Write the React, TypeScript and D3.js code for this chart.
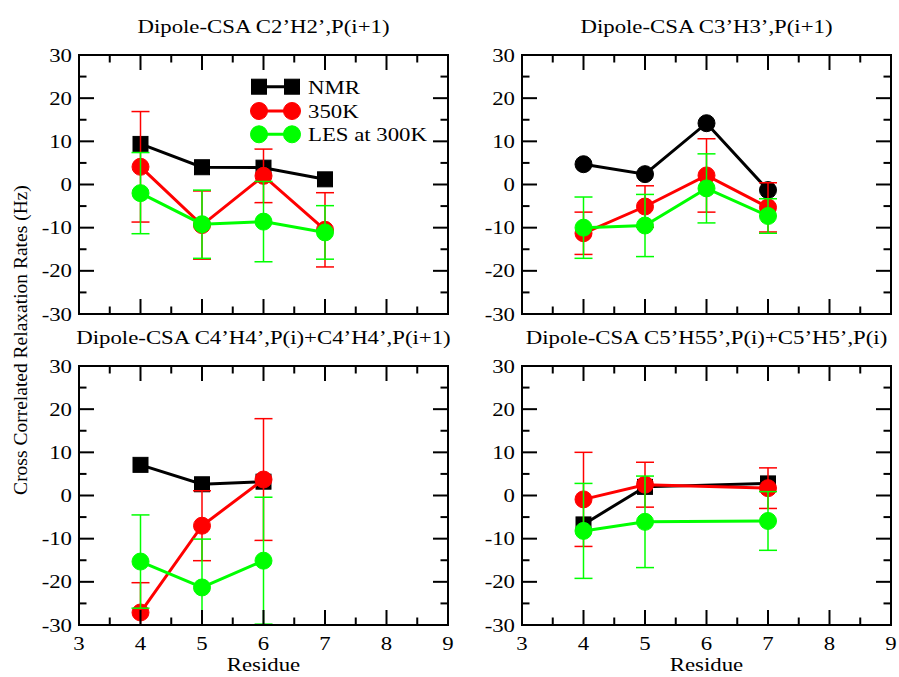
import React from "react";
import * as d3 from "d3";

const W = 899;
const H = 677;

const xTicks = [3, 4, 5, 6, 7, 8, 9];
const yTicks = [-30, -20, -10, 0, 10, 20, 30];
const seriesNames = ["NMR", "350K", "LES at 300K"];
const seriesColors = ["#000000", "#ff0000", "#00ff00"];

const titles = [
  "Dipole-CSA C2\u2019H2\u2019,P(i+1)",
  "Dipole-CSA C3\u2019H3\u2019,P(i+1)",
  "Dipole-CSA C4\u2019H4\u2019,P(i)+C4\u2019H4\u2019,P(i+1)",
  "Dipole-CSA C5\u2019H55\u2019,P(i)+C5\u2019H5\u2019,P(i)",
];

// Panel A
const resA = [4, 5, 6, 7];
const nmrA = [9.4, 4.0, 3.9, 1.2];
const k350A = [4.1, -9.4, 2.0, -10.5];
const k350ErrA = [12.8, 7.9, 6.2, 8.6];
const lesA = [-2.0, -9.2, -8.6, -11.1];
const lesErrA = [9.4, 7.9, 9.3, 6.2];

// Panel B
const resB = [4, 5, 6, 7];
const nmrB = [4.7, 2.4, 14.2, -1.3];
const k350B = [-11.3, -5.1, 2.1, -5.3];
const k350ErrB = [4.9, 4.8, 8.5, 5.7];
const lesB = [-10.0, -9.5, -0.9, -7.3];
const lesErrB = [7.1, 7.2, 8.0, 4.0];

// Panel C
const resC = [4, 5, 6];
const nmrC = [7.1, 2.6, 3.2];
const k350C = [-27.1, -7.0, 3.7];
const k350ErrC = [6.9, 8.1, 14.1];
const lesC = [-15.3, -21.3, -15.1];
const lesErrC = [10.8, 11.2, 14.7];

// Panel D
const resD = [4, 5, 7];
const nmrD = [-6.7, 2.0, 2.8];
const k350D = [-0.9, 2.5, 1.7];
const k350ErrD = [10.9, 5.2, 4.7];
const lesD = [-8.2, -6.1, -5.9];
const lesErrD = [11.0, 10.6, 6.8];

const panels = [
  { res: resA, nmr: nmrA, k350: k350A, k350Err: k350ErrA, les: lesA, lesErr: lesErrA, nmrSym: "square" },
  { res: resB, nmr: nmrB, k350: k350B, k350Err: k350ErrB, les: lesB, lesErr: lesErrB, nmrSym: "circle" },
  { res: resC, nmr: nmrC, k350: k350C, k350Err: k350ErrC, les: lesC, lesErr: lesErrC, nmrSym: "square" },
  { res: resD, nmr: nmrD, k350: k350D, k350Err: k350ErrD, les: lesD, lesErr: lesErrD, nmrSym: "square" },
];

const boxes = [
  { x0: 79, x1: 448, y0: 55, y1: 314 },
  { x0: 522, x1: 891, y0: 55, y1: 314 },
  { x0: 79, x1: 448, y0: 366, y1: 625 },
  { x0: 522, x1: 891, y0: 366, y1: 625 },
];

const FONT = "'Liberation Serif', 'Times New Roman', serif";
const SX = 1.2;

function T({ x, y, anchor = "start", size = 19, children }: any) {
  const tr = `translate(${x},${y}) scale(${SX},1)`;
  return (
    <text transform={tr} textAnchor={anchor} fontFamily={FONT} fontSize={size} fill="#000">
      {children}
    </text>
  );
}

function Sym({ kind, x, y, color }: any) {
  if (kind === "square") {
    return <rect x={x - 7.5} y={y - 7.5} width={15} height={15} fill={color} stroke={color} strokeWidth={1} />;
  }
  return <circle cx={x} cy={y} r={8.5} fill={color} stroke={color} strokeWidth={1} />;
}

function Panel({ idx }: { idx: number }) {
  const b = boxes[idx];
  const p = panels[idx];
  const x = d3.scaleLinear().domain([3, 9]).range([b.x0, b.x1]);
  const y = d3.scaleLinear().domain([-30, 30]).range([b.y1, b.y0]);
  const line = d3
    .line<[number, number]>()
    .x((d) => x(d[0]))
    .y((d) => y(d[1]));
  const xMinor = d3.range(3.5, 9, 1);
  const yMinor = d3.range(-25, 30, 10);
  const clipId = `clip${idx}`;
  const series = [
    { vals: p.nmr, err: null as number[] | null, sym: p.nmrSym, color: seriesColors[0] },
    { vals: p.k350, err: p.k350Err, sym: "circle", color: seriesColors[1] },
    { vals: p.les, err: p.lesErr, sym: "circle", color: seriesColors[2] },
  ];
  const MAJ = 15;
  const MIN = 7.5;
  const cx = (b.x0 + b.x1) / 2;
  return (
    <g>
      <defs>
        <clipPath id={clipId}>
          <rect x={b.x0} y={b.y0} width={b.x1 - b.x0} height={b.y1 - b.y0} />
        </clipPath>
      </defs>
      <T x={cx} y={b.y0 - 22} anchor="middle">{titles[idx]}</T>
      <g clipPath={`url(#${clipId})`}>
        {series.map((s, si) => {
          const pts: [number, number][] = p.res.map((r, i) => [r, s.vals[i]]);
          return (
            <g key={si}>
              <path d={line(pts) || ""} fill="none" stroke={s.color} strokeWidth={3} />
              {pts.map((d, i) => (
                <Sym key={i} kind={s.sym} x={x(d[0])} y={y(d[1])} color={s.color} />
              ))}
              {s.err &&
                pts.map((d, i) => {
                  const e = s.err![i];
                  const xx = x(d[0]);
                  const yt = y(d[1] + e);
                  const yb = y(d[1] - e);
                  return (
                    <g key={"e" + i} stroke={s.color} strokeWidth={1.5}>
                      <line x1={xx} x2={xx} y1={yt} y2={yb} />
                      <line x1={xx - 9} x2={xx + 9} y1={yt} y2={yt} />
                      <line x1={xx - 9} x2={xx + 9} y1={yb} y2={yb} />
                    </g>
                  );
                })}
            </g>
          );
        })}
      </g>
      <rect x={b.x0} y={b.y0} width={b.x1 - b.x0} height={b.y1 - b.y0} fill="none" stroke="#000" strokeWidth={2} />
      <g stroke="#000" strokeWidth={2}>
        {xTicks.map((t) => (
          <g key={"xt" + t}>
            <line x1={x(t)} x2={x(t)} y1={b.y1} y2={b.y1 - MAJ} />
            <line x1={x(t)} x2={x(t)} y1={b.y0} y2={b.y0 + MAJ} />
          </g>
        ))}
        {xMinor.map((t) => (
          <g key={"xm" + t}>
            <line x1={x(t)} x2={x(t)} y1={b.y1} y2={b.y1 - MIN} />
            <line x1={x(t)} x2={x(t)} y1={b.y0} y2={b.y0 + MIN} />
          </g>
        ))}
        {yTicks.map((t) => (
          <g key={"yt" + t}>
            <line x1={b.x0} x2={b.x0 + MAJ} y1={y(t)} y2={y(t)} />
            <line x1={b.x1} x2={b.x1 - MAJ} y1={y(t)} y2={y(t)} />
          </g>
        ))}
        {yMinor.map((t) => (
          <g key={"ym" + t}>
            <line x1={b.x0} x2={b.x0 + MIN} y1={y(t)} y2={y(t)} />
            <line x1={b.x1} x2={b.x1 - MIN} y1={y(t)} y2={y(t)} />
          </g>
        ))}
      </g>
      {yTicks.map((t) => (
        <T key={"yl" + t} x={b.x0 - 7} y={y(t) + 6.5} anchor="end">{String(t)}</T>
      ))}
      {idx >= 2 &&
        xTicks.map((t) => (
          <T key={"xl" + t} x={x(t)} y={b.y1 + 25} anchor="middle">{String(t)}</T>
        ))}
      {idx >= 2 && <T x={cx} y={b.y1 + 46} anchor="middle">Residue</T>}
    </g>
  );
}

function Legend() {
  const rows = [86.7, 111, 134.3];
  const syms = ["square", "circle", "circle"];
  const xa = 259;
  const xb = 292;
  return (
    <g>
      {rows.map((ry, i) => (
        <g key={i}>
          <line x1={xa} x2={xb} y1={ry} y2={ry} stroke={seriesColors[i]} strokeWidth={3} />
          <Sym kind={syms[i]} x={xa} y={ry} color={seriesColors[i]} />
          <Sym kind={syms[i]} x={xb} y={ry} color={seriesColors[i]} />
          <T x={308} y={ry + 7} size={19}>{seriesNames[i]}</T>
        </g>
      ))}
    </g>
  );
}

export default function App() {
  return (
    <svg width={W} height={H} style={{ display: "block", position: "absolute", left: 0, top: 0, background: "#fff" }}>
      <rect x={0} y={0} width={W} height={H} fill="#fff" />
      {[0, 1, 2, 3].map((i) => (
        <Panel key={i} idx={i} />
      ))}
      <Legend />
      <text
        transform={`translate(27,340) rotate(-90)`}
        textAnchor="middle"
        fontFamily={FONT}
        fontSize={19.5}
      >
        Cross Correlated Relaxation Rates (Hz)
      </text>
    </svg>
  );
}
